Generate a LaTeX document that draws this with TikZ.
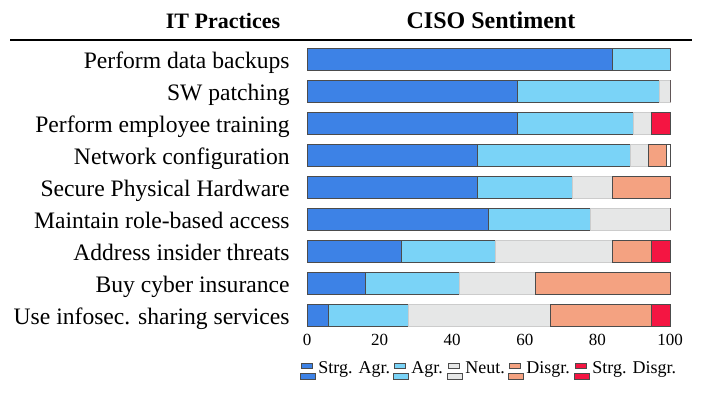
\documentclass[tikz,border=0pt]{standalone}
\usepackage{fontspec}
\setmainfont{Liberation Serif}
\usepackage{tikz}
\usetikzlibrary{positioning}

\definecolor{sagr}{RGB}{61,130,230}
\definecolor{agr}{RGB}{122,211,247}
\definecolor{neut}{RGB}{230,231,231}
\definecolor{disg}{RGB}{244,162,129}
\definecolor{sdisg}{RGB}{244,21,66}

% one row of the chart: index, practice, five shares
\newcommand{\sentrow}[7]{%
  \pgfmathsetmacro{\rowy}{59+32*(#1-1)}
  \pgfmathsetmacro{\ca}{#3}
  \pgfmathsetmacro{\cb}{\ca+#4}
  \pgfmathsetmacro{\cc}{\cb+#5}
  \pgfmathsetmacro{\cd}{\cc+#6}
  \pgfmathsetmacro{\ce}{\cd+#7}
  \node [rowlabel] (row#1) at (290,\rowy+9) {#2};
  \draw [seg, fill=sagr] (307,\rowy-11) rectangle (307+3.63*\ca,\rowy+11);
  \draw [seg, fill=agr] (307+3.63*\ca,\rowy-11) rectangle (307+3.63*\cb,\rowy+11);
  \draw [seg, fill=neut, draw=black!20] (307+3.63*\cb,\rowy-11) rectangle (307+3.63*\cc,\rowy+11);
  \draw [seg, fill=disg] (307+3.63*\cc,\rowy-11) rectangle (307+3.63*\cd,\rowy+11);
  \draw [seg, fill=sdisg] (307+3.63*\cd,\rowy-11) rectangle (307+3.63*\ce,\rowy+11);
}

\begin{document}
\begin{tikzpicture}
[x=0.5pt, y=-0.5pt,
seg/.style ={draw=black!70, line width=0.4pt},
rowlabel/.style ={anchor=base east, inner sep=0pt, font=\fontsize{11.8}{14}\selectfont},
head/.style ={anchor=base, inner sep=0pt, font=\fontsize{12}{14}\selectfont\bfseries},
ticklabel/.style ={anchor=base, inner sep=0pt, font=\fontsize{8.5}{10}\selectfont},
legtext/.style ={anchor=base west, inner sep=0pt, font=\fontsize{9}{11}\selectfont},
legbox/.style ={draw=black!70, line width=0.4pt},
]
\useasboundingbox (0,0) rectangle (702,392);

% header
\node [head, font=\fontsize{11}{13}\selectfont\bfseries] (hit) at (223,28) {IT Practices};
\node [head] (hciso) at (491,28) {CISO Sentiment};
\draw [line width=0.9pt] (10,40) -- (692,40);

% rows
\sentrow{1}{Perform data backups}{84}{16}{0}{0}{0}
\sentrow{2}{SW patching}{58}{39}{3}{0}{0}
\sentrow{3}{Perform employee training}{58}{32}{5}{0}{5}
\sentrow{4}{Network configuration}{47}{42}{5}{5}{0}
\draw [seg, fill=white] (307+3.63*99,155-11) rectangle (307+3.63*100,155+11);
\sentrow{5}{Secure Physical Hardware}{47}{26}{11}{16}{0}
\sentrow{6}{Maintain role-based access}{50}{28}{22}{0}{0}
\sentrow{7}{Address insider threats}{26}{26}{32}{11}{5}
\sentrow{8}{Buy cyber insurance}{16}{26}{21}{37}{0}
\sentrow{9}{Use infosec. sharing services}{6}{22}{39}{28}{5}

% axis ticks
\foreach \v in {0,20,...,100}
  \node [ticklabel] (tick\v) at (307+3.63*\v,345) {\v};

% legend
\foreach \x/\c/\t [count=\i] in {300/sagr/Strg. Agr., 393/agr/Agr., 447/neut/Neut., 508/disg/Disgr., 574/sdisg/Strg. Disgr.}
{
  \draw [legbox, fill=\c] (\x+1,363) rectangle (\x+12,368);
  \draw [legbox, fill=\c] (\x,373) rectangle (\x+15,379);
  \node [legtext] (leg\i) at (\x+18,373) {\t};
}
\end{tikzpicture}
\end{document}
